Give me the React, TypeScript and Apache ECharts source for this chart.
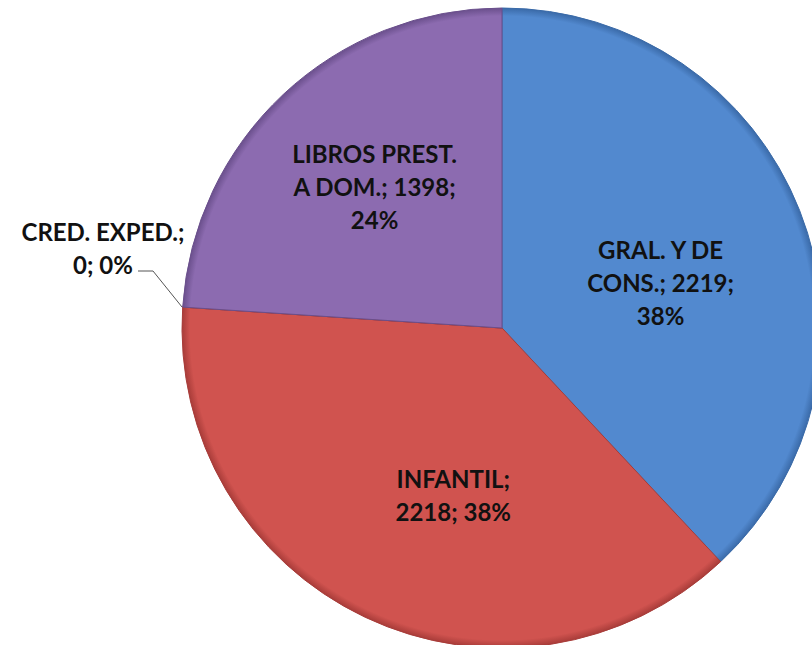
import React, { useEffect, useRef } from "react";
import * as echarts from "echarts";

const categories = ["GRAL. Y DE CONS.", "INFANTIL", "CRED. EXPED.", "LIBROS PREST. A DOM."];
const values = [2219, 2218, 0, 1398];
const colors = ["#5289cf", "#d0534f", "#c0504d", "#8c6bb0"];
const rims = ["#3a6aa8", "#a83c39", "#a83c39", "#6a4f8c"];

const CX = 502;
const CY = 328;
const R = 320;

function formatLabel(idx: number, name: string, value: number, pct: number): string {
  if (idx === 0) return `GRAL. Y DE\nCONS.; ${value};\n${pct}%`;
  if (idx === 1) return `${name};\n${value}; ${pct}%`;
  if (idx === 2) return `${name};\n${value}; ${pct}%`;
  return `LIBROS PREST.\nA DOM.; ${value};\n${pct}%`;
}

const labelShift: Record<number, [number, number]> = {
  0: [7, 14],
  1: [21, 20],
  3: [-16, -23],
};

export default function App() {
  const ref = useRef<HTMLDivElement>(null);
  useEffect(() => {
    if (!ref.current) return;
    const chart = echarts.init(ref.current, null, { renderer: "svg" });
    const data = categories.map((name, i) => ({
      name,
      value: values[i],
      itemStyle: {
        color: {
          type: "radial",
          x: CX,
          y: CY,
          r: R,
          global: true,
          colorStops: [
            { offset: 0, color: colors[i] },
            { offset: 0.975, color: colors[i] },
            { offset: 1, color: rims[i] },
          ],
        },
        borderColor: rims[i],
        borderWidth: 1,
      },
      label:
        i === 2
          ? { position: "outside", show: true }
          : { position: "inside", show: true },
      labelLine: { show: i === 2, lineStyle: { color: "#555", width: 1 } },
    }));
    chart.setOption({
      animation: false,
      backgroundColor: "#ffffff",
      series: [
        {
          type: "pie",
          center: [CX, CY],
          radius: [0, R],
          startAngle: 90,
          clockwise: true,
          percentPrecision: 0,
          avoidLabelOverlap: false,
          data,
          label: {
            fontFamily: "Lato",
            fontWeight: "bold",
            fontSize: 24,
            lineHeight: 33,
            color: "#111111",
            align: "center",
            formatter: (p: any) => formatLabel(p.dataIndex, p.name, p.value, Math.round(p.percent)),
          },
          labelLayout: (p: any) => {
            if (p.dataIndex === 2) {
              return {
                x: 103,
                y: 248,
                align: "center",
                verticalAlign: "middle",
                labelLinePoints: [
                  [182, 307],
                  [153, 271],
                  [138, 271],
                ],
              };
            }
            const s = labelShift[p.dataIndex] || [0, 0];
            return { dx: s[0], dy: s[1] };
          },
        },
      ],
    });
    return () => chart.dispose();
  }, []);
  return (
    <div
      ref={ref}
      style={{ position: "absolute", left: 0, top: 0, width: 812, height: 645 }}
    />
  );
}
